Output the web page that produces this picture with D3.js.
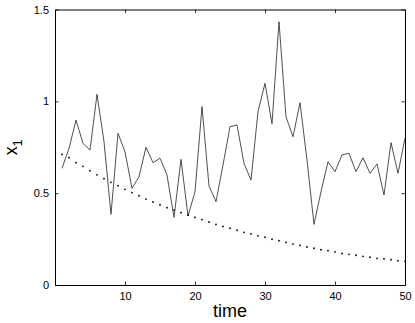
<!DOCTYPE html>
<meta charset="utf-8">
<script src="https://d3js.org/d3.v7.min.js"></script>
<style>
  body { margin: 0; background: #fff; }
  text { font-family: "Liberation Sans", Arial, Helvetica, sans-serif; }
</style>
<div id="chart"></div>
<script>
// data
var timeSteps = d3.range(1, 51);
var x1Values = [0.635, 0.744, 0.898, 0.771, 0.735, 1.038, 0.780, 0.385, 0.826, 0.725,
                0.526, 0.590, 0.750, 0.666, 0.690, 0.599, 0.368, 0.684, 0.376, 0.508,
                0.971, 0.539, 0.454, 0.653, 0.862, 0.871, 0.662, 0.572, 0.944, 1.098,
                0.878, 1.433, 0.916, 0.807, 0.993, 0.680, 0.330, 0.508, 0.671, 0.617,
                0.708, 0.717, 0.617, 0.693, 0.608, 0.659, 0.490, 0.775, 0.608, 0.799];
var trendValues = [0.711, 0.693, 0.666, 0.646, 0.622, 0.600, 0.579, 0.559, 0.541, 0.521,
                   0.503, 0.486, 0.468, 0.452, 0.437, 0.421, 0.408, 0.394, 0.381, 0.368,
                   0.356, 0.343, 0.330, 0.319, 0.309, 0.298, 0.287, 0.278, 0.268, 0.260,
                   0.249, 0.241, 0.232, 0.223, 0.216, 0.207, 0.200, 0.192, 0.187, 0.180,
                   0.172, 0.167, 0.162, 0.156, 0.151, 0.145, 0.142, 0.138, 0.132, 0.129];
var xTicks = [10, 20, 30, 40, 50];
var yTicks = [0, 0.5, 1, 1.5];
var yTickLabels = ["0", "0.5", "1", "1.5"];

var W = 415, H = 323;
var margin = {top: 9.5, right: 10, bottom: 38, left: 55};
var width = W - margin.left - margin.right,
    height = H - margin.top - margin.bottom;

var svg = d3.select("#chart").append("svg")
    .attr("width", W)
    .attr("height", H);
var g = svg.append("g")
    .attr("transform", "translate(" + margin.left + "," + margin.top + ")");

var x = d3.scaleLinear().domain([0, 50]).range([0, width]);
var y = d3.scaleLinear().domain([0, 1.5]).range([height, 0]);

// axes, ticks pointing inward on all four sides (matlab style)
var tl = 3.5;
g.append("g")
    .attr("transform", "translate(0," + height + ")")
    .call(d3.axisBottom(x).tickValues(xTicks).tickSizeInner(-tl).tickSizeOuter(0).tickPadding(7));
g.append("g")
    .call(d3.axisTop(x).tickValues(xTicks).tickSizeInner(-tl).tickSizeOuter(0).tickFormat(""));
g.append("g")
    .call(d3.axisLeft(y).tickValues(yTicks).tickSizeInner(-tl).tickSizeOuter(0).tickPadding(6)
      .tickFormat(function(d, i) { return yTickLabels[i]; }));
g.append("g")
    .attr("transform", "translate(" + width + ",0)")
    .call(d3.axisRight(y).tickValues(yTicks).tickSizeInner(-tl).tickSizeOuter(0).tickFormat(""));

g.selectAll(".domain").attr("stroke", "#000").attr("stroke-width", 1);
g.selectAll(".tick line").attr("stroke", "#000").attr("stroke-width", 0.8);
g.selectAll(".tick text").attr("font-size", 11).attr("fill", "#000")
    .style("font-family", "'Liberation Sans', Arial, sans-serif");

// noisy series
g.append("path")
    .datum(timeSteps)
    .attr("fill", "none")
    .attr("stroke", "#222")
    .attr("stroke-width", 0.8)
    .attr("d", d3.line()
        .x(function(d) { return x(d); })
        .y(function(d, i) { return y(x1Values[i]); }));

// dotted decay curve
g.selectAll(".dot")
    .data(timeSteps)
    .enter().append("circle")
    .attr("class", "dot")
    .attr("cx", function(d) { return x(d); })
    .attr("cy", function(d, i) { return y(trendValues[i]); })
    .attr("r", 0.9)
    .attr("fill", "#000");

// labels
svg.append("text")
    .attr("x", margin.left + width / 2)
    .attr("y", 316.5)
    .attr("text-anchor", "middle")
    .attr("font-size", 18)
    .text("time");

var yl = svg.append("text")
    .attr("transform", "translate(17," + (margin.top + height / 2) + ") rotate(-90)")
    .attr("text-anchor", "middle")
    .attr("font-size", 18);
yl.append("tspan").text("x");
yl.append("tspan").attr("font-size", 13).attr("dy", 5).text("1");
</script>
